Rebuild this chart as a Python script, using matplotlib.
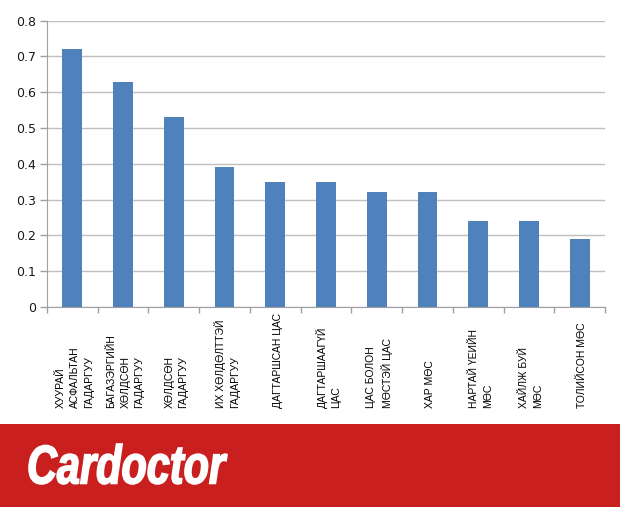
import matplotlib
matplotlib.use('Agg')
import matplotlib.pyplot as plt
import matplotlib.transforms as mtransforms
from matplotlib.patches import Rectangle, PathPatch
from matplotlib.textpath import TextPath
from matplotlib.font_manager import FontProperties

categories = [
	'ХУУРАЙ\nАСФАЛЬТАН\nГАДАРГУУ',
	'БАГАЗЭРГИЙН\nХӨЛДСӨН\nГАДАРГУУ',
	'ХӨЛДСӨН\nГАДАРГУУ',
	'ИХ ХӨЛДӨЛТТЭЙ\nГАДАРГУУ',
	'ДАГТАРШСАН ЦАС',
	'ДАГТАРШААГҮЙ\nЦАС',
	'ЦАС БОЛОН\nМӨСТЭЙ ЦАС',
	'ХАР МӨС',
	'НАРТАЙ ҮЕИЙН\nМӨС',
	'ХАЙЛЖ БУЙ\nМӨС',
	'ТОЛИЙСОН МӨС',
]
values = [0.72, 0.63, 0.53, 0.39, 0.35, 0.35, 0.32, 0.32, 0.24, 0.24, 0.19]
yticks = [0, 0.1, 0.2, 0.3, 0.4, 0.5, 0.6, 0.7, 0.8]
ytick_labels = ['0', '0.1', '0.2', '0.3', '0.4', '0.5', '0.6', '0.7', '0.8']
brand = 'Cardoctor'


def main():
	fig = plt.figure(figsize=(6.2, 5.07), dpi=100)
	ax = fig.add_axes([0.0758, 0.3945, 0.9, 0.5647])

	x = list(range(len(values)))
	ax.bar(x, values, width=0.39, color='#4F81BD', zorder=3)

	ax.set_xlim(-0.5, len(values) - 0.5)
	ax.set_ylim(0, 0.8)
	ax.set_yticks(yticks)
	ax.set_yticklabels(ytick_labels, fontsize=9, color='#1a1a1a')
	ax.yaxis.grid(True, color='#BFBFBF', linewidth=1, zorder=0)

	# ticks on the category boundaries, labels placed by hand
	ax.set_xticks([i - 0.5 for i in range(len(values) + 1)])
	ax.set_xticklabels([])
	ax.tick_params(axis='x', length=4, color='#A0A0A0', width=1)
	ax.tick_params(axis='y', length=5, color='#A0A0A0', width=1, pad=3)

	for s in ['top', 'right']:
		ax.spines[s].set_visible(False)
	for s in ['left', 'bottom']:
		ax.spines[s].set_color('#A0A0A0')

	trans = mtransforms.blended_transform_factory(ax.transData, ax.transAxes)
	for i, lab in enumerate(categories):
		ax.text(i + 0.05, -0.353, lab, transform=trans, rotation=90, ha='center', va='bottom',
				multialignment='left', fontsize=7.5, family=['Liberation Sans', 'DejaVu Sans'],
				linespacing=1.5)

	# red banner at the bottom
	fig.patches.append(Rectangle((0, 0), 1, 83 / 507, transform=fig.transFigure,
								 facecolor='#C91F1F', edgecolor='none', zorder=0))

	# condensed bold italic logo text, squeezed into the banner
	fp = FontProperties(family='Liberation Sans', weight='bold', style='italic')
	tp = TextPath((0, 0), brand, size=1, prop=fp)
	bb = tp.get_extents()
	w_px, h_px = 198.0, 40.0
	sx = w_px / bb.width
	sy = h_px / bb.height
	tf = (mtransforms.Affine2D().translate(-bb.x0, -bb.y0).scale(sx, sy)
		  .translate(29, 507 - 484))
	patch = PathPatch(tp, transform=tf, facecolor='white', edgecolor='white', linewidth=1.2)
	fig.patches.append(patch)

	fig.savefig('out.png', dpi=100)


if __name__ == '__main__':
	main()
